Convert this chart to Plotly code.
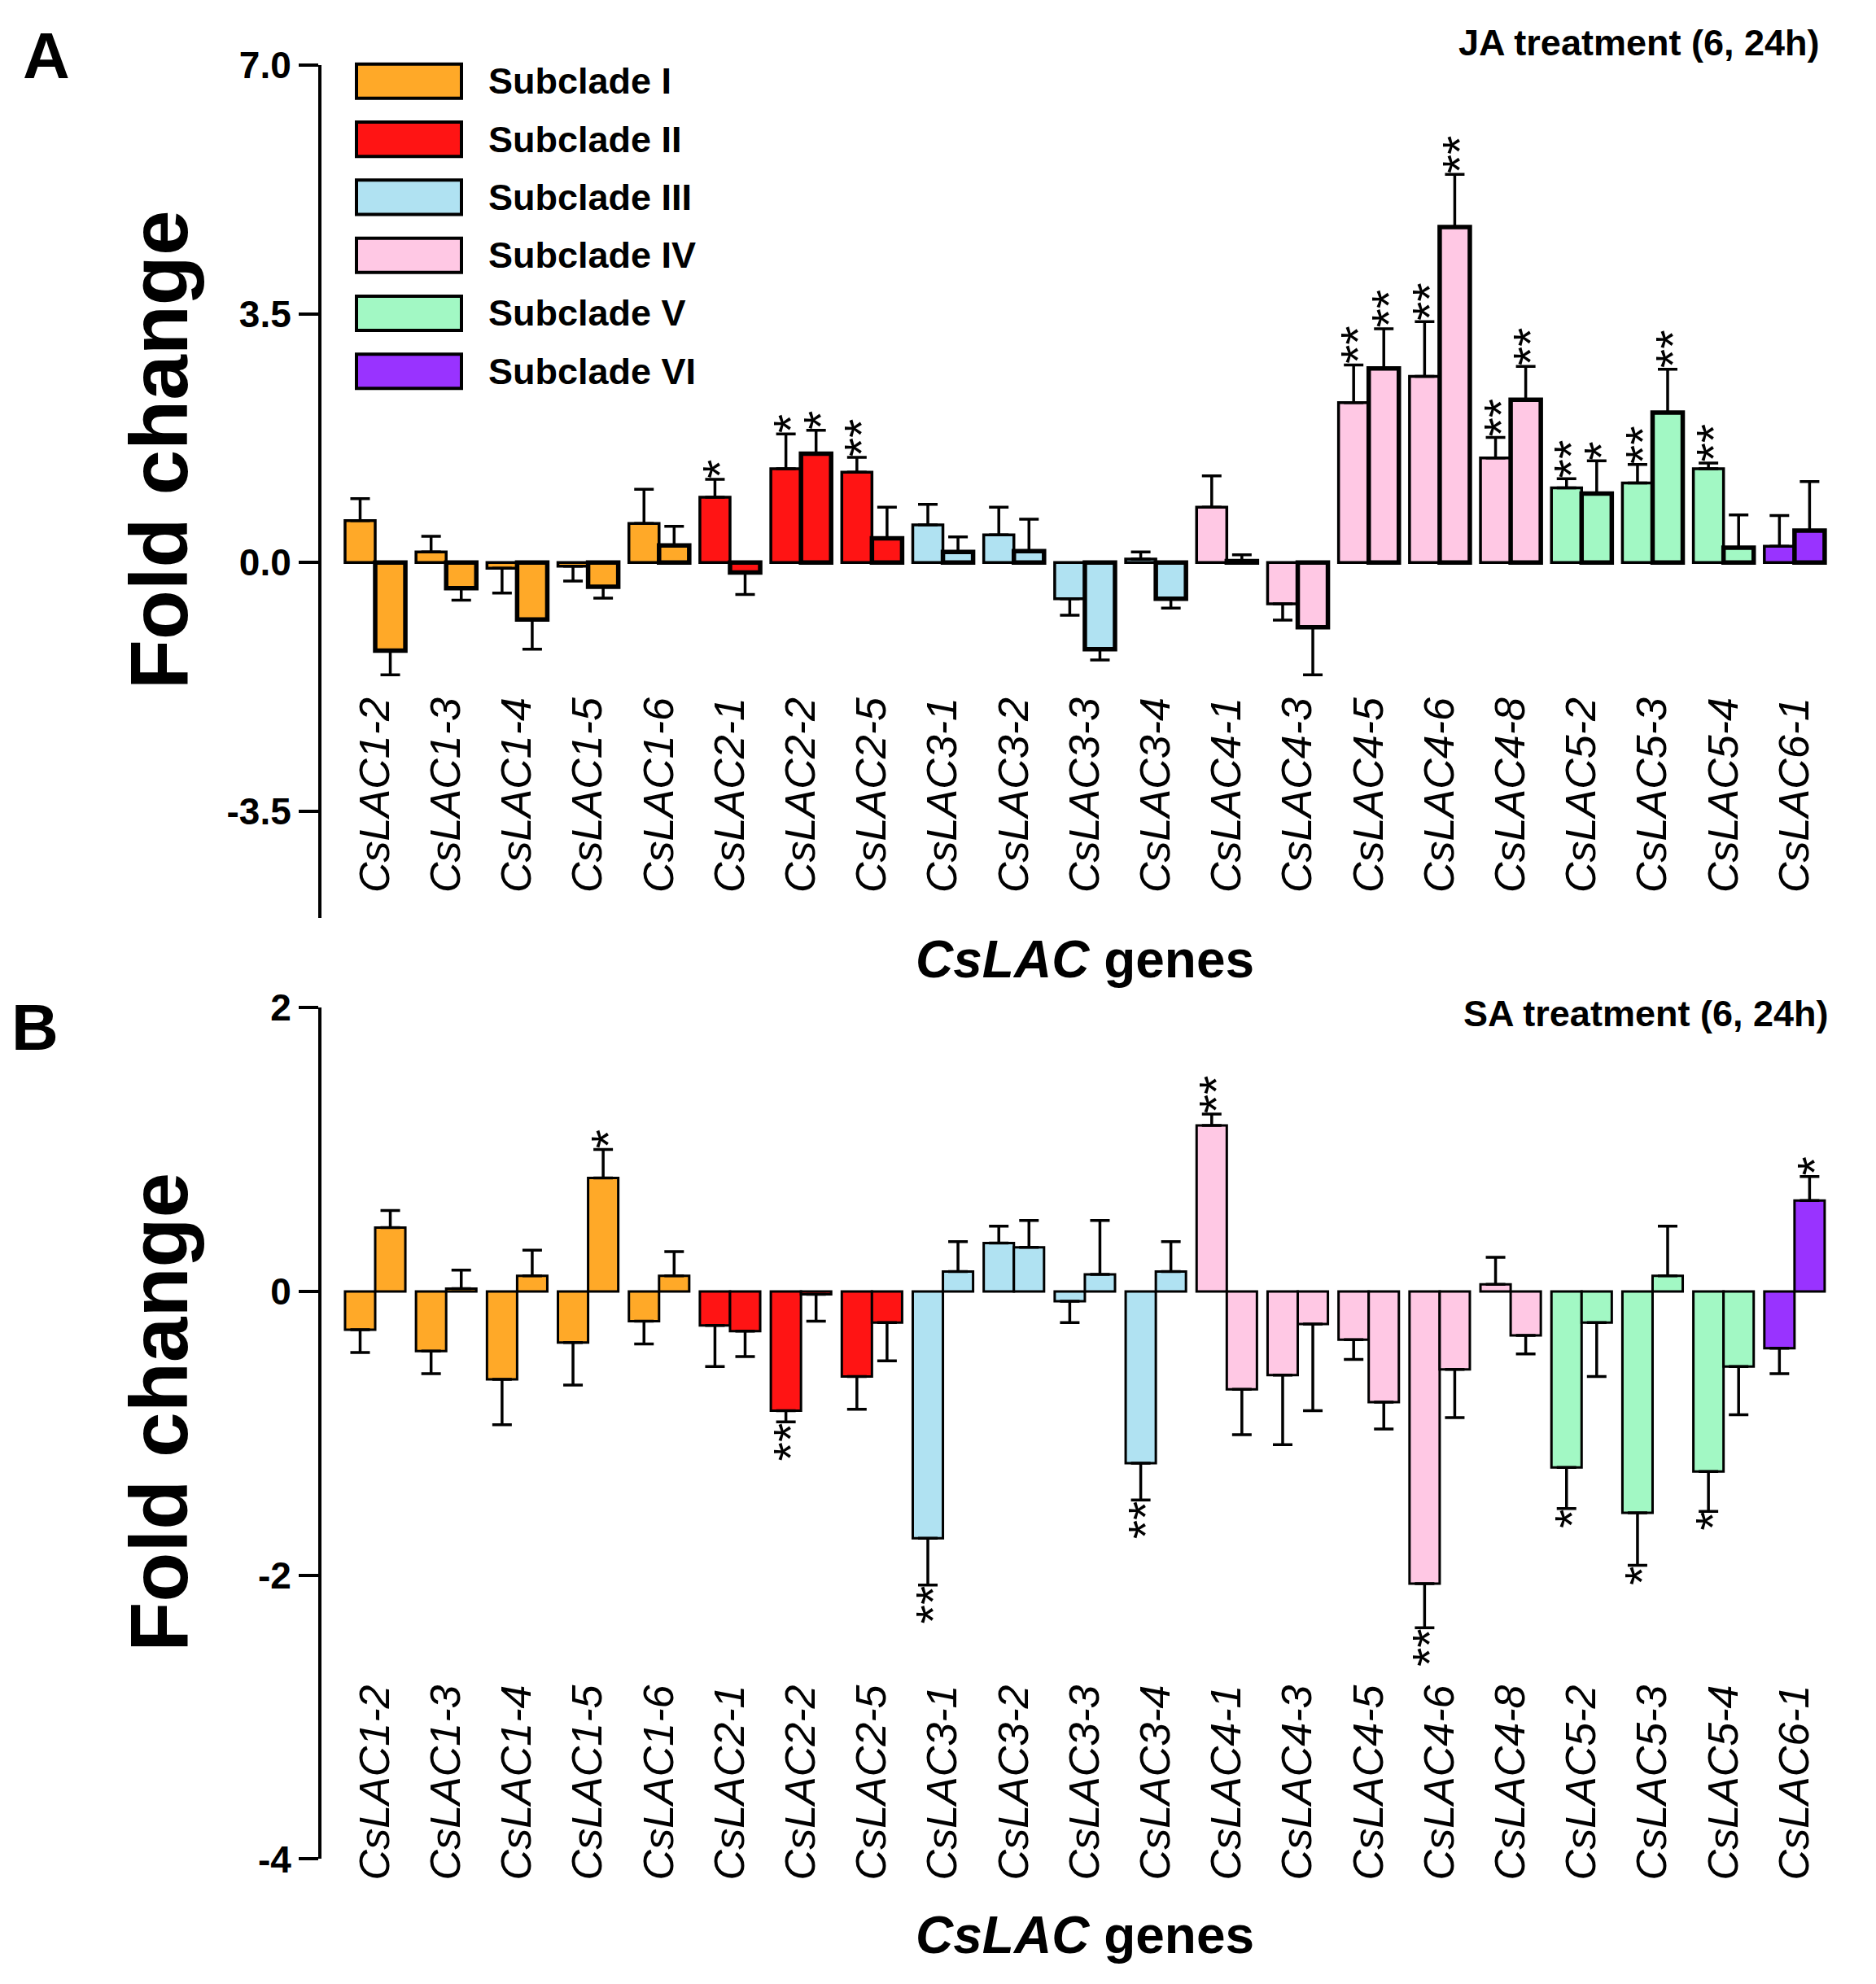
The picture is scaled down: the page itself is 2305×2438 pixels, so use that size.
import plotly.graph_objects as go

genes = ["CsLAC1-2", "CsLAC1-3", "CsLAC1-4", "CsLAC1-5", "CsLAC1-6",
         "CsLAC2-1", "CsLAC2-2", "CsLAC2-5", "CsLAC3-1", "CsLAC3-2",
         "CsLAC3-3", "CsLAC3-4", "CsLAC4-1", "CsLAC4-3", "CsLAC4-5",
         "CsLAC4-6", "CsLAC4-8", "CsLAC5-2", "CsLAC5-3", "CsLAC5-4",
         "CsLAC6-1"]

subclades = ["Subclade I", "Subclade II", "Subclade III",
             "Subclade IV", "Subclade V", "Subclade VI"]
subclade_colors = ["#FFA928", "#FF1414", "#B0E2F2", "#FFC8E4", "#A2F8C4", "#9933FF"]

# JA treatment: fold change and SE at 6 h and 24 h
ja_6h = [0.59, 0.15, -0.08, -0.05, 0.55, 0.92, 1.32, 1.27, 0.53, 0.39, -0.51,
         0.05, 0.78, -0.58, 2.25, 2.62, 1.47, 1.05, 1.12, 1.32, 0.23]
ja_6h_err = [0.31, 0.22, 0.35, 0.21, 0.48, 0.25, 0.49, 0.21, 0.29, 0.39, 0.23,
             0.10, 0.44, 0.23, 0.53, 0.77, 0.29, 0.13, 0.26, 0.08, 0.43]
ja_24h = [-1.24, -0.36, -0.80, -0.34, 0.24, -0.14, 1.53, 0.34, 0.15, 0.16, -1.22,
          -0.51, 0.02, -0.91, 2.73, 4.72, 2.29, 0.97, 2.11, 0.21, 0.45]
ja_24h_err = [0.34, 0.17, 0.42, 0.16, 0.27, 0.31, 0.33, 0.44, 0.21, 0.45, 0.15,
              0.13, 0.09, 0.67, 0.56, 0.74, 0.47, 0.46, 0.61, 0.46, 0.69]
ja_6h_sig = ["", "", "", "", "", "*", "*", "**", "", "", "",
             "", "", "", "**", "**", "**", "**", "**", "**", ""]
ja_24h_sig = ["", "", "", "", "", "", "*", "", "", "", "",
              "", "", "", "**", "**", "**", "*", "**", "", ""]

# SA treatment
sa_6h = [-0.27, -0.42, -0.62, -0.36, -0.21, -0.24, -0.84, -0.60, -1.74, 0.34, -0.07,
         -1.21, 1.17, -0.59, -0.34, -2.06, 0.05, -1.24, -1.56, -1.27, -0.40]
sa_6h_err = [0.16, 0.16, 0.32, 0.30, 0.16, 0.29, 0.08, 0.23, 0.33, 0.12, 0.15,
             0.26, 0.08, 0.49, 0.14, 0.31, 0.19, 0.29, 0.37, 0.28, 0.18]
sa_24h = [0.45, 0.02, 0.11, 0.80, 0.11, -0.28, -0.02, -0.22, 0.14, 0.31, 0.12,
          0.14, -0.69, -0.23, -0.78, -0.55, -0.31, -0.22, 0.11, -0.53, 0.64]
sa_24h_err = [0.12, 0.13, 0.18, 0.20, 0.17, 0.18, 0.19, 0.27, 0.21, 0.19, 0.38,
              0.21, 0.32, 0.61, 0.19, 0.34, 0.13, 0.38, 0.35, 0.34, 0.17]
sa_6h_sig = ["", "", "", "", "", "", "**", "", "**", "", "",
             "**", "**", "", "", "**", "", "*", "*", "*", ""]
sa_24h_sig = ["", "", "", "*", "", "", "", "", "", "", "",
              "", "", "", "", "", "", "", "", "", "*"]

W, H = 2305, 2438
FONT = "Liberation Sans, Arial, sans-serif"


# page pixel -> paper fraction (small correction for where the page lands in the shot)
def py(p):
    return 1 - (1.023 * p - 33) / H


def px(p):
    return (p - 7) / W


bar_colors = [subclade_colors[int(g[5]) - 1] for g in genes]
xpos = list(range(len(genes)))
x_dom = [px(394), px(2271)]
x_rng = [-0.757, 20.77]

fig = go.Figure()
annotations = []
shapes = []


def add_panel(n, v6, e6, v24, e24, s6, s24, lw6, lw24):
    xa = "x" if n == 1 else "x2"
    ya = "y" if n == 1 else "y2"
    for vals, errs, lw in [(v6, e6, lw6), (v24, e24, lw24)]:
        up = [e if v >= 0 else 0 for v, e in zip(vals, errs)]
        dn = [e if v < 0 else 0 for v, e in zip(vals, errs)]
        fig.add_trace(go.Bar(
            x=xpos, y=vals, xaxis=xa, yaxis=ya,
            marker=dict(color=bar_colors, line=dict(color="black", width=lw)),
            error_y=dict(type="data", array=up, arrayminus=dn, symmetric=False,
                         color="black", thickness=3.5, width=12),
            showlegend=False))
    for sig, vals, errs, off in [(s6, v6, e6, -0.2125), (s24, v24, e24, 0.2125)]:
        for i, s in enumerate(sig):
            if not s:
                continue
            v = vals[i]
            pos = v >= 0
            annotations.append(dict(
                x=i + off, y=v + errs[i] if pos else v - errs[i], xref=xa, yref=ya,
                text=s, showarrow=False, textangle=-90,
                xanchor="center", yanchor="bottom" if pos else "top",
                xshift=6, yshift=-1 if pos else 1,
                font=dict(family=FONT, size=60, color="black")))


add_panel(1, ja_6h, ja_6h_err, ja_24h, ja_24h_err, ja_6h_sig, ja_24h_sig, 3.5, 5.5)
add_panel(2, sa_6h, sa_6h_err, sa_24h, sa_24h_err, sa_6h_sig, sa_24h_sig, 3, 3)

zero_a = 78 + 7 / 12 * (1125 - 78)
zero_b = 1235 + 2 / 6 * (2280 - 1235)

tickfont_x = dict(family=FONT, size=52, color="black", style="italic")
tickfont_y = dict(family=FONT, size=46, color="black", weight="bold")

label_axis = dict(domain=x_dom, range=x_rng, tickmode="array", tickvals=xpos,
                  ticktext=genes, tickangle=-90, ticks="", showline=False,
                  showgrid=False, zeroline=False, anchor="free", tickfont=tickfont_x)
zero_axis = dict(domain=x_dom, range=x_rng, tickmode="array", tickvals=xpos,
                 showticklabels=False, ticks="outside", ticklen=22, tickwidth=4,
                 tickcolor="black", showline=True, linecolor="black", linewidth=5,
                 showgrid=False, zeroline=False, anchor="free")
y_common = dict(showline=True, linecolor="black", linewidth=4, ticks="outside",
                ticklen=24, tickwidth=4, tickcolor="black", showgrid=False,
                zeroline=False, tickfont=tickfont_y)

fig.update_layout(
    xaxis=dict(label_axis, position=py(843)),
    xaxis2=dict(label_axis, position=py(2055)),
    xaxis3=dict(zero_axis, overlaying="x", position=py(zero_a)),
    xaxis4=dict(zero_axis, overlaying="x2", position=py(zero_b)),
    yaxis=dict(y_common, domain=[py(1125), py(78)], range=[-5, 7], anchor="x",
               tickvals=[-3.5, 0, 3.5, 7], ticktext=["-3.5", "0.0", "3.5", "7.0"]),
    yaxis2=dict(y_common, domain=[py(2280), py(1235)], range=[-4, 2], anchor="x2",
                tickvals=[-4, -2, 0, 2], ticktext=["-4", "-2", "0", "2"]),
)

# legend drawn as boxes + labels
for k, (name, col) in enumerate(zip(subclades, subclade_colors)):
    t = 77 + 71.2 * k
    shapes.append(dict(type="rect", xref="paper", yref="paper",
                       x0=px(437), x1=px(566), y0=py(t + 42), y1=py(t),
                       fillcolor=col, line=dict(color="black", width=4)))
    annotations.append(dict(x=px(597), y=py(t + 21), xref="paper", yref="paper",
                            text=name, showarrow=False, xanchor="left", yanchor="middle",
                            font=dict(family=FONT, size=45, color="black", weight="bold")))

bold = dict(family=FONT, color="black", weight="bold")
for txt, x, y, size, angle, xa in [
    ("Fold change", 194, 551, 100, -90, "center"),
    ("Fold change", 194, 1732, 100, -90, "center"),
    ("<i>CsLAC</i> genes", 1332, 1176, 64, 0, "center"),
    ("<i>CsLAC</i> genes", 1332, 2373, 64, 0, "center"),
    ("A", 56, 67, 80, 0, "center"),
    ("B", 42, 1259, 80, 0, "center"),
    ("JA treatment (6, 24h)", 2236, 51, 45, 0, "right"),
    ("SA treatment (6, 24h)", 2247, 1242, 45, 0, "right"),
]:
    annotations.append(dict(x=px(x), y=py(y), xref="paper", yref="paper", text=txt,
                            showarrow=False, textangle=angle, xanchor=xa, yanchor="middle",
                            font=dict(bold, size=size)))

fig.update_layout(
    width=W, height=H, autosize=False,
    margin=dict(l=0, r=0, t=0, b=0),
    paper_bgcolor="white", plot_bgcolor="white",
    barmode="group", bargap=0.15, bargroupgap=0,
    annotations=annotations, shapes=shapes,
    font=dict(family=FONT, color="black"),
)

fig.write_html("out.html")
